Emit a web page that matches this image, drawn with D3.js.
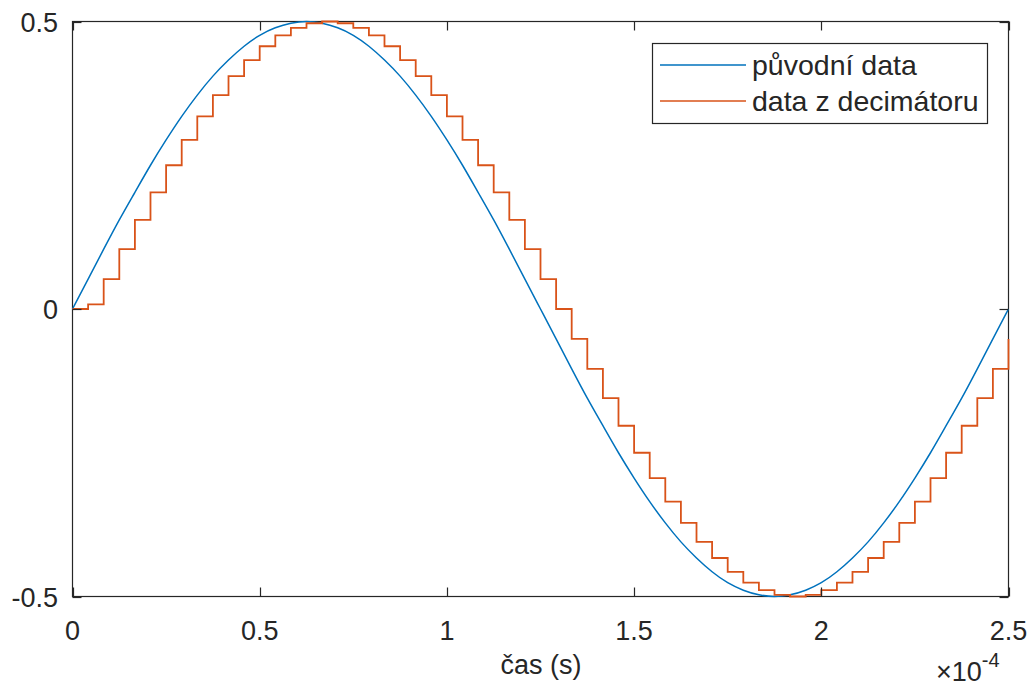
<!DOCTYPE html>
<html>
<head>
<meta charset="utf-8">
<script src="https://cdn.jsdelivr.net/npm/d3@7"></script>
<style>
  html, body { margin: 0; padding: 0; background: #fff; }
  svg { display: block; }
  text { font-family: "Liberation Sans", Arial, Helvetica, sans-serif; fill: #262626; }
</style>
</head>
<body>
<svg id="chart" width="1032" height="686"></svg>
<script>
// time axis values (units of 1e-4 s)
const sampleTimes = [0, 0.0417, 0.0833, 0.125, 0.1667, 0.2083, 0.25, 0.2917, 0.3333, 0.375,
  0.4167, 0.4583, 0.5, 0.5417, 0.5833, 0.625, 0.6667, 0.7083, 0.75, 0.7917,
  0.8333, 0.875, 0.9167, 0.9583, 1, 1.0417, 1.0833, 1.125, 1.1667, 1.2083,
  1.25, 1.2917, 1.3333, 1.375, 1.4167, 1.4583, 1.5, 1.5417, 1.5833, 1.625,
  1.6667, 1.7083, 1.75, 1.7917, 1.8333, 1.875, 1.9167, 1.9583, 2, 2.0417,
  2.0833, 2.125, 2.1667, 2.2083, 2.25, 2.2917, 2.3333, 2.375, 2.4167, 2.4583, 2.5];

// "původní data" (original signal)
const originalValues = [0, 0.052, 0.104, 0.155, 0.203, 0.25, 0.294, 0.335, 0.372, 0.405,
  0.433, 0.457, 0.476, 0.489, 0.497, 0.5, 0.497, 0.489, 0.476, 0.457,
  0.433, 0.405, 0.372, 0.335, 0.294, 0.25, 0.203, 0.155, 0.104, 0.052,
  0, -0.052, -0.104, -0.155, -0.203, -0.25, -0.294, -0.335, -0.372, -0.405,
  -0.433, -0.457, -0.476, -0.489, -0.497, -0.5, -0.497, -0.489, -0.476, -0.457,
  -0.433, -0.405, -0.372, -0.335, -0.294, -0.25, -0.203, -0.155, -0.104, -0.052, 0];

// "data z decimátoru" (decimator output, held steps)
const decimatorValues = [0, 0.008, 0.052, 0.104, 0.155, 0.203, 0.25, 0.294, 0.335, 0.372,
  0.405, 0.433, 0.457, 0.476, 0.489, 0.497, 0.5, 0.497, 0.489, 0.476,
  0.457, 0.433, 0.405, 0.372, 0.335, 0.294, 0.25, 0.203, 0.155, 0.104,
  0.052, 0, -0.052, -0.104, -0.155, -0.203, -0.25, -0.294, -0.335, -0.372,
  -0.405, -0.433, -0.457, -0.476, -0.489, -0.497, -0.5, -0.497, -0.489, -0.476,
  -0.457, -0.433, -0.405, -0.372, -0.335, -0.294, -0.25, -0.203, -0.155, -0.104, -0.052];

const xTicks = [0, 0.5, 1, 1.5, 2, 2.5];
const xTickLabels = ["0", "0.5", "1", "1.5", "2", "2.5"];
const yTicks = [-0.5, 0, 0.5];
const yTickLabels = ["-0.5", "0", "0.5"];
const seriesNames = ["původní data", "data z decimátoru"];
const seriesColors = ["#0072BD", "#D95319"];
const xLabel = "čas (s)";

const svg = d3.select("#chart");
const L = 72.5, R = 1008.5, T = 21.5, B = 596.5;
const x = d3.scaleLinear().domain([0, 2.5]).range([L, R]);
const y = d3.scaleLinear().domain([-0.5, 0.5]).range([B, T]);
const axisColor = "#262626";

svg.append("clipPath").attr("id", "clip")
  .append("rect").attr("x", L - 1).attr("y", T - 2).attr("width", R - L + 4).attr("height", B - T + 4);

const plot = svg.append("g").attr("clip-path", "url(#clip)");

const blueData = sampleTimes.map((t, i) => [t, originalValues[i]]);
const orangeData = sampleTimes.map((t, i) => [t, decimatorValues[i]]);

plot.append("path").datum(blueData)
  .attr("fill", "none").attr("stroke", seriesColors[0]).attr("stroke-width", 1.5)
  .attr("d", d3.line().x(d => x(d[0])).y(d => y(d[1])).curve(d3.curveNatural));

// axes box (drawn under the orange line's final edge)
svg.insert("rect", "g").attr("x", L).attr("y", T).attr("width", R - L).attr("height", B - T)
  .attr("fill", "none").attr("stroke", axisColor).attr("stroke-width", 1.2);

plot.append("path").datum(orangeData)
  .attr("fill", "none").attr("stroke", seriesColors[1]).attr("stroke-width", 1.8)
  .attr("d", d3.line().x(d => x(d[0])).y(d => y(d[1])).curve(d3.curveStepAfter));

const tl = 9;
const tg = svg.append("g").attr("stroke", axisColor).attr("stroke-width", 1.2);
xTicks.forEach(v => {
  const px = Math.round(x(v)) + 0.5;
  tg.append("line").attr("x1", px).attr("x2", px).attr("y1", B).attr("y2", B - tl);
  tg.append("line").attr("x1", px).attr("x2", px).attr("y1", T).attr("y2", T + tl);
});
yTicks.forEach(v => {
  const py = Math.round(y(v)) + 0.5;
  tg.append("line").attr("x1", L).attr("x2", L + tl).attr("y1", py).attr("y2", py);
  tg.append("line").attr("x1", R).attr("x2", R - tl).attr("y1", py).attr("y2", py);
});

xTicks.forEach((v, i) => {
  svg.append("text").attr("x", x(v)).attr("y", 640)
    .attr("text-anchor", "middle").attr("font-size", 27).text(xTickLabels[i]);
});
yTicks.forEach((v, i) => {
  svg.append("text").attr("x", 58).attr("y", y(v) + 10)
    .attr("text-anchor", "end").attr("font-size", 27).text(yTickLabels[i]);
});

svg.append("text").attr("x", 541).attr("y", 674).attr("text-anchor", "middle")
  .attr("font-size", 27).text(xLabel);

const expo = svg.append("text").attr("x", 936).attr("y", 681).attr("font-size", 27);
expo.append("tspan").text("×10");
expo.append("tspan").attr("dy", -14).attr("font-size", 20).text("-4");

// legend
const lg = svg.append("g");
lg.append("rect").attr("x", 652.5).attr("y", 43.5).attr("width", 335).attr("height", 80)
  .attr("fill", "#fff").attr("stroke", axisColor).attr("stroke-width", 1.2);
seriesNames.forEach((n, i) => {
  const ly = 65 + i * 36;
  lg.append("line").attr("x1", 660).attr("x2", 746).attr("y1", ly).attr("y2", ly)
    .attr("stroke", seriesColors[i]).attr("stroke-width", 1.6);
  lg.append("text").attr("x", 752).attr("y", ly + 10).attr("font-size", 28.5).text(n);
});
</script>
</body>
</html>
